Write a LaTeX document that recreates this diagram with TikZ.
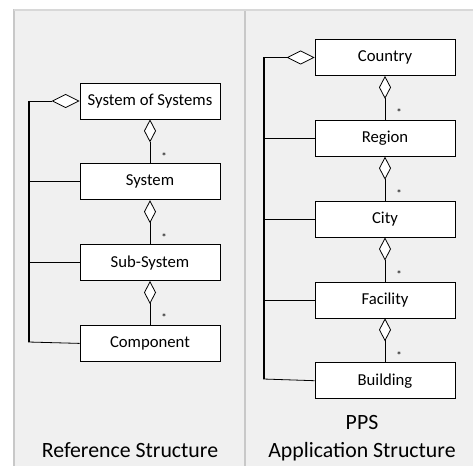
\documentclass[tikz,border=0pt]{standalone}
\usepackage{fontspec}
\setmainfont{Carlito}
\usetikzlibrary{positioning,arrows.meta}
\definecolor{panelfill}{RGB}{240,240,240}
\definecolor{panelline}{RGB}{200,200,200}

\begin{document}
\begin{tikzpicture}[x=1pt,y=-1pt,node distance=44pt,
  box/.style={draw,rectangle,fill=white,line width=0.8pt,minimum width=140pt,minimum height=36pt,inner sep=0pt,font=\fontsize{16.7}{19}\selectfont},
  agg/.style={line width=0.8pt,{Diamond[fill=white,length=23pt,width=12pt,line width=0.8pt]}-},
  mult/.style={font=\fontsize{11}{12}\selectfont,inner sep=1pt,xshift=10pt},
  title/.style={font=\fontsize{21.8}{28}\selectfont,align=center,inner sep=0pt}]
\useasboundingbox (0,0) rectangle (473,465);
% panels
\fill[panelfill] (14,10) rectangle (480,470);
\draw[panelline,line width=1.2pt] (14,470) -- (14,10) -- (480,10);
\draw[panelline,line width=2pt] (245,10) -- (245,470);
\draw[panelline!70,line width=1.2pt] (14,10) -- (480,10);

% reference structure
\node[box] (sos) at (150,101) {System of Systems};
\node[box,below=of sos] (sys) {System};
\node[box,below=of sys] (sub) {Sub-System};
\node[box,below=of sub] (comp) {Component};
\draw[agg] (sos.south) -- node[mult,right,pos=0.84] (m1) {*} (sys.north);
\draw[agg] (sys.south) -- node[mult,right,pos=0.84] (m2) {*} (sub.north);
\draw[agg] (sub.south) -- node[mult,right,pos=0.84] (m3) {*} (comp.north);
\coordinate (ltop) at (29,101);
\coordinate (lbot) at (29,342);
\draw[line width=0.8pt,{Diamond[fill=white,length=28pt,width=14pt,line width=0.8pt]}-] (sos.west) -- (ltop);
\draw[line width=1.6pt] (ltop) -- ([yshift=-0.4pt]lbot);
\draw[line width=0.8pt] (sys.west) -- (sys.west -| ltop);
\draw[line width=0.8pt] (sub.west) -- (sub.west -| ltop);
\draw[line width=0.8pt] (comp.west) -- ([xshift=-0.8pt]lbot);
\node[title,anchor=base] (reftitle) at (130,457) {Reference Structure};

% application structure
\node[box] (country) at (385,57.5) {Country};
\node[box,below=of country] (region) {Region};
\node[box,below=of region] (city) {City};
\node[box,below=of city] (facility) {Facility};
\node[box,below=of facility] (building) {Building};
\draw[agg] (country.south) -- node[mult,right,pos=0.84] (m4) {*} (region.north);
\draw[agg] (region.south) -- node[mult,right,pos=0.84] (m5) {*} (city.north);
\draw[agg] (city.south) -- node[mult,right,pos=0.84] (m6) {*} (facility.north);
\draw[agg] (facility.south) -- node[mult,right,pos=0.84] (m7) {*} (building.north);
\coordinate (rtop) at (264,57.5);
\coordinate (rbot) at (264,379);
\draw[line width=0.8pt,{Diamond[fill=white,length=28pt,width=14pt,line width=0.8pt]}-] (country.west) -- (rtop);
\draw[line width=1.6pt] (rtop) -- ([yshift=-0.4pt]rbot);
\draw[line width=0.8pt] (region.west) -- (region.west -| rtop);
\draw[line width=0.8pt] (city.west) -- (city.west -| rtop);
\draw[line width=0.8pt] (facility.west) -- (facility.west -| rtop);
\draw[line width=0.8pt] (building.west) -- ([xshift=-0.8pt]rbot);
\node[title,anchor=base] (apptitle) at (362,429) {PPS};
\node[title,anchor=base] (apptitle2) at (362,457) {Application Structure};
\end{tikzpicture}
\end{document}
